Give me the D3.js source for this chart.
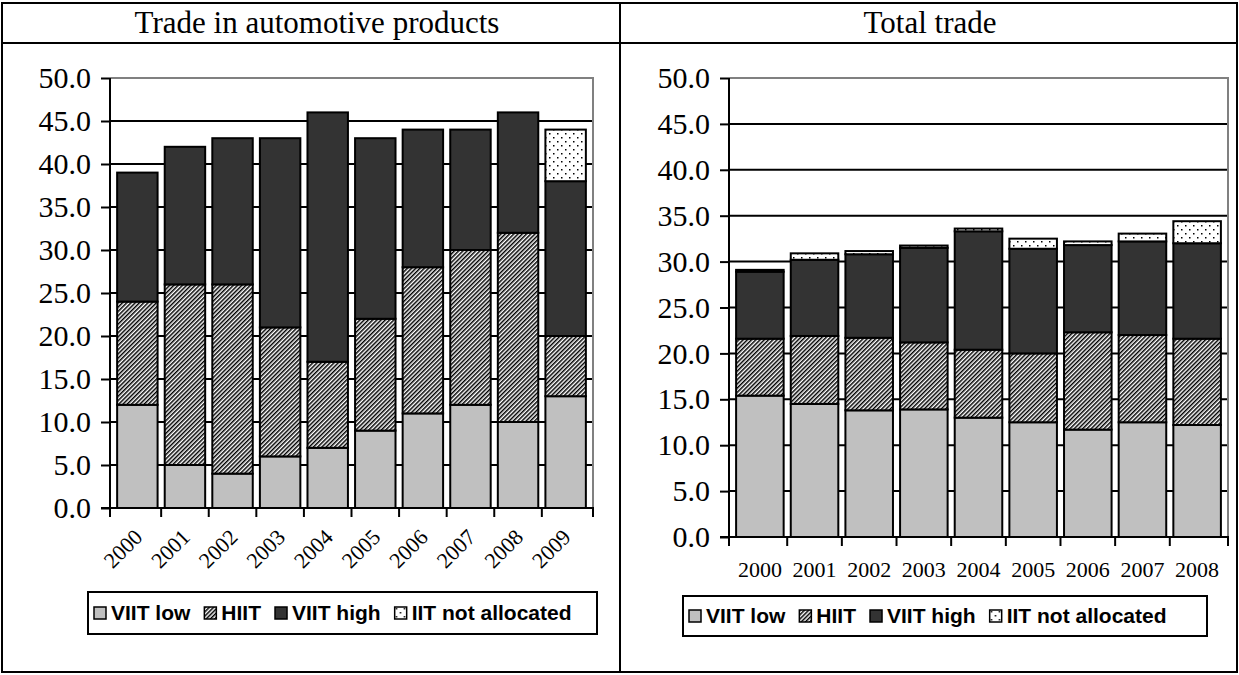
<!DOCTYPE html>
<html>
<head>
<meta charset="utf-8">
<script src="https://cdn.jsdelivr.net/npm/d3@7"></script>
<style>
  html, body { margin: 0; padding: 0; background: #fff; }
  svg { display: block; }
</style>
</head>
<body>
<svg id="chart" width="1239" height="675"></svg>
<script>
// ---------- data ----------
const seriesNames = ["VIIT low", "HIIT", "VIIT high", "IIT not allocated"];
const yTickValues = [0, 5, 10, 15, 20, 25, 30, 35, 40, 45, 50];

// Trade in automotive products
const autoYears = ["2000", "2001", "2002", "2003", "2004", "2005", "2006", "2007", "2008", "2009"];
const autoViitLow  = [12, 5, 4, 6, 7, 9, 11, 12, 10, 13];
const autoHiit     = [12, 21, 22, 15, 10, 13, 17, 18, 22, 7];
const autoViitHigh = [15, 16, 17, 22, 29, 21, 16, 14, 14, 18];
const autoNotAlloc = [0, 0, 0, 0, 0, 0, 0, 0, 0, 6];

// Total trade
const totalYears = ["2000", "2001", "2002", "2003", "2004", "2005", "2006", "2007", "2008"];
const totalViitLow  = [15.4, 14.5, 13.8, 13.9, 13.0, 12.5, 11.7, 12.5, 12.2];
const totalHiit     = [6.2, 7.4, 7.9, 7.3, 7.4, 7.5, 10.6, 9.5, 9.4];
const totalViitHigh = [7.3, 8.3, 9.1, 10.3, 12.9, 11.4, 9.5, 10.2, 10.4];
const totalNotAlloc = [0.2, 0.7, 0.35, 0.25, 0.3, 1.1, 0.4, 0.85, 2.4];

// ---------- drawing ----------
const svg = d3.select("#chart");
const defs = svg.append("defs");

// HIIT diagonal stripes
const stripe = defs.append("pattern")
  .attr("id", "stripes").attr("patternUnits", "userSpaceOnUse")
  .attr("width", 3).attr("height", 3)
  .attr("patternTransform", "rotate(45)");
stripe.append("rect").attr("width", 3).attr("height", 3).attr("fill", "#fff");
stripe.append("rect").attr("width", 1.5).attr("height", 3).attr("fill", "#000");

// dots
const dots = defs.append("pattern")
  .attr("id", "dots").attr("patternUnits", "userSpaceOnUse")
  .attr("width", 8).attr("height", 8);
dots.append("rect").attr("width", 8).attr("height", 8).attr("fill", "#fff");
dots.append("rect").attr("x", 1).attr("y", 1).attr("width", 1.5).attr("height", 1.5).attr("fill", "#000");
dots.append("rect").attr("x", 5).attr("y", 5).attr("width", 1.5).attr("height", 1.5).attr("fill", "#000");

const fills = ["#c0c0c0", "url(#stripes)", "#333333", "url(#dots)"];
const serif = "'Liberation Serif', 'Times New Roman', serif";
const sans = "'Liberation Sans', Arial, sans-serif";

// table frame
const frame = svg.append("g").attr("fill", "none").attr("stroke", "#000").attr("stroke-width", 2);
frame.append("rect").attr("x", 2).attr("y", 3).attr("width", 1235).attr("height", 669);
frame.append("line").attr("x1", 2).attr("x2", 1237).attr("y1", 43).attr("y2", 43);
frame.append("line").attr("x1", 620).attr("x2", 620).attr("y1", 3).attr("y2", 672);

function drawPanel(cfg) {
  const g = svg.append("g");
  g.append("text").attr("x", cfg.titleX).attr("y", 33)
    .attr("text-anchor", "middle").style("font-family", serif).style("font-size", "31px")
    .text(cfg.title);

  const rows = cfg.years.map((yr, i) => ({
    year: yr,
    "VIIT low": cfg.low[i], "HIIT": cfg.hiit[i], "VIIT high": cfg.high[i], "IIT not allocated": cfg.na[i]
  }));
  const stacked = d3.stack().keys(seriesNames)(rows);

  const x = d3.scaleBand().domain(cfg.years).range([cfg.x0, cfg.x1])
    .paddingInner(cfg.pad).paddingOuter(cfg.pad);
  const y = d3.scaleLinear().domain([0, 50]).range([cfg.y0, cfg.y1]);

  // gridlines
  g.append("g").selectAll("line").data(yTickValues.filter(v => v > 0 && v < 50)).join("line")
    .attr("x1", cfg.x0).attr("x2", cfg.x1)
    .attr("y1", d => y(d)).attr("y2", d => y(d))
    .attr("stroke", "#000").attr("stroke-width", 2);

  // plot border top/right (grey)
  g.append("path")
    .attr("d", `M${cfg.x0},${y(50)}H${cfg.x1}V${cfg.y0}`)
    .attr("fill", "none").attr("stroke", "#808080").attr("stroke-width", 2);

  // bars
  g.append("g").selectAll("g").data(stacked).join("g")
    .attr("fill", (d, i) => fills[i])
    .selectAll("rect").data(d => d.filter(s => s[1] - s[0] > 0)).join("rect")
    .attr("x", d => x(d.data.year))
    .attr("width", x.bandwidth())
    .attr("y", d => y(d[1]))
    .attr("height", d => y(d[0]) - y(d[1]))
    .attr("stroke", "#000").attr("stroke-width", 2);

  // y axis
  const yAxis = g.append("g").attr("transform", `translate(${cfg.x0},0)`)
    .call(d3.axisLeft(y).tickValues(yTickValues).tickFormat(d3.format(".1f")).tickSize(9).tickPadding(10));
  yAxis.attr("font-family", null).attr("font-size", null);
  yAxis.select(".domain").attr("stroke", "#000").attr("stroke-width", 2).attr("d", `M0,${cfg.y0 + 1}V${y(50)}`);
  yAxis.selectAll(".tick line").attr("stroke", "#000").attr("stroke-width", 2);
  yAxis.selectAll(".tick text").style("font-family", serif).style("font-size", "30px").attr("fill", "#000");

  // x axis line + ticks at category boundaries
  g.append("line").attr("x1", cfg.x0 - 9).attr("x2", cfg.x1 + 1)
    .attr("y1", cfg.y0).attr("y2", cfg.y0).attr("stroke", "#000").attr("stroke-width", 2);
  const bounds = cfg.years.map(yr => x(yr) - x.step() * x.paddingInner() / 2);
  bounds.push(cfg.x1);
  bounds[0] = cfg.x0;
  g.append("g").selectAll("line").data(bounds).join("line")
    .attr("x1", d => d).attr("x2", d => d)
    .attr("y1", cfg.y0).attr("y2", cfg.y0 + 9)
    .attr("stroke", "#000").attr("stroke-width", 2);

  // x labels
  const lab = g.append("g").selectAll("text").data(cfg.years).join("text")
    .style("font-family", serif).attr("fill", "#000").text(d => d);
  if (cfg.rotate) {
    lab.style("font-size", "22px").attr("text-anchor", "end").attr("dy", "0.35em")
      .attr("transform", d => `translate(${x(d) + x.bandwidth() / 2 + 1},${cfg.y0 + 25}) rotate(-45)`);
  } else {
    lab.style("font-size", "22px").attr("text-anchor", "middle")
      .attr("x", d => x(d) + x.bandwidth() / 2).attr("y", cfg.y0 + 40);
  }

  // legend
  const lg = g.append("g");
  lg.append("rect").attr("x", cfg.legX).attr("y", cfg.legY).attr("width", cfg.legW).attr("height", cfg.legH)
    .attr("fill", "#fff").attr("stroke", "#000").attr("stroke-width", 2);
  const items = lg.selectAll("g").data(seriesNames).join("g");
  items.append("rect").attr("width", 12).attr("height", 12)
    .attr("fill", (d, i) => fills[i]).attr("stroke", "#000").attr("stroke-width", 1.5);
  items.append("text").attr("x", 17).attr("y", 13)
    .style("font-family", sans).style("font-weight", "bold").style("font-size", "21px").attr("fill", "#000")
    .text(d => d);
  let cx = cfg.legX + 6;
  items.each(function () {
    const it = d3.select(this);
    const w = it.select("text").node().getComputedTextLength();
    it.attr("transform", `translate(${cx},${cfg.legY + cfg.legH / 2 - 6})`);
    cx += 17 + w + cfg.itemGap;
  });
}

drawPanel({
  title: "Trade in automotive products", titleX: 317,
  years: autoYears, low: autoViitLow, hiit: autoHiit, high: autoViitHigh, na: autoNotAlloc,
  x0: 110, x1: 593, y0: 508, y1: 78, pad: 0.15, rotate: true,
  legX: 88, legY: 592, legW: 509, legH: 42, itemGap: 14
});

drawPanel({
  title: "Total trade", titleX: 930,
  years: totalYears, low: totalViitLow, hiit: totalHiit, high: totalViitHigh, na: totalNotAlloc,
  x0: 729, x1: 1228, y0: 537, y1: 78, pad: 0.13, rotate: false,
  legX: 683, legY: 596, legW: 524, legH: 40, itemGap: 14
});
</script>
</body>
</html>
